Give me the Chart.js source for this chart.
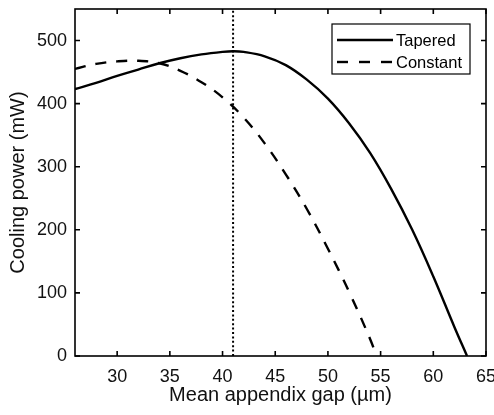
<!DOCTYPE html>
<html>
<head>
<meta charset="utf-8">
<script src="https://cdn.jsdelivr.net/npm/chart.js@4.4.1/dist/chart.umd.min.js"></script>
<style>
  html, body { margin: 0; padding: 0; background: #fff; }
  #wrap { width: 494px; height: 415px; }
</style>
</head>
<body>
<div id="wrap"><canvas id="chart" width="494" height="415"></canvas></div>
<script>
// data
const gapTapered = [26, 28, 30, 32, 34, 36, 38, 40, 41, 42, 44, 46, 48, 50, 52, 54, 56, 58, 60, 62, 63.2];
const powerTapered = [423, 433, 444, 454, 464, 472, 478, 482, 483, 482, 475, 461, 438, 408, 369, 322, 265, 200, 126, 46, 0];

const gapConstant = [26, 28, 30, 32, 34, 36, 38, 40, 42, 44, 46, 48, 50, 52, 54, 54.6];
const powerConstant = [455, 463, 467, 468, 464, 452, 434, 410, 378, 337, 288, 233, 170, 102, 27, 0];

const optimumGap = 41;
const xTicks = [30, 35, 40, 45, 50, 55, 60, 65];
const yTicks = [0, 100, 200, 300, 400, 500];
const seriesNames = ["Tapered", "Constant"];

const FONT = "'Liberation Sans', Arial, Helvetica, sans-serif";

const toPoints = (xs, ys) => xs.map((x, i) => ({ x: x, y: ys[i] }));

// box + inward ticks on all four sides, legend in the corner
const framePlugin = {
    id: "frame",
    afterDatasetsDraw(chart) {
        const { ctx, chartArea: a, scales } = chart;
        const t = 5;
        ctx.save();
        ctx.strokeStyle = "#000";
        ctx.lineWidth = 1.6;
        ctx.setLineDash([]);
        ctx.beginPath();
        xTicks.forEach(v => {
            const px = scales.x.getPixelForValue(v);
            ctx.moveTo(px, a.bottom); ctx.lineTo(px, a.bottom - t);
            ctx.moveTo(px, a.top); ctx.lineTo(px, a.top + t);
        });
        yTicks.forEach(v => {
            const py = scales.y.getPixelForValue(v);
            ctx.moveTo(a.left, py); ctx.lineTo(a.left + t, py);
            ctx.moveTo(a.right, py); ctx.lineTo(a.right - t, py);
        });
        ctx.stroke();
        ctx.strokeRect(a.left, a.top, a.right - a.left, a.bottom - a.top);

        // legend
        const bx = a.right - 154, by = a.top + 15, bw = 138, bh = 50;
        ctx.fillStyle = "#fff";
        ctx.fillRect(bx, by, bw, bh);
        ctx.lineWidth = 1.2;
        ctx.strokeRect(bx, by, bw, bh);
        const rows = [by + 16, by + 38];
        const dashes = [[], [11, 11]];
        ctx.lineWidth = 2.4;
        rows.forEach((ry, i) => {
            ctx.setLineDash(dashes[i]);
            ctx.beginPath();
            ctx.moveTo(bx + 5, ry);
            ctx.lineTo(bx + 61, ry);
            ctx.stroke();
        });
        ctx.setLineDash([]);
        ctx.fillStyle = "#000";
        ctx.font = "16.5px " + FONT;
        ctx.textBaseline = "middle";
        ctx.textAlign = "left";
        rows.forEach((ry, i) => ctx.fillText(seriesNames[i], bx + 64, ry + 1));
        ctx.restore();
    }
};

new Chart(document.getElementById("chart"), {
    type: "line",
    data: {
        datasets: [
            {
                label: seriesNames[0],
                data: toPoints(gapTapered, powerTapered),
                borderColor: "#000",
                borderWidth: 2.4,
                pointRadius: 0,
                tension: 0.4,
                fill: false
            },
            {
                label: seriesNames[1],
                data: toPoints(gapConstant, powerConstant),
                borderColor: "#000",
                borderWidth: 2.4,
                borderDash: [11, 10],
                pointRadius: 0,
                tension: 0.4,
                fill: false
            },
            {
                label: "optimum",
                data: [{ x: optimumGap, y: 0 }, { x: optimumGap, y: 550 }],
                borderColor: "#000",
                borderWidth: 2,
                borderDash: [2, 2.4],
                pointRadius: 0,
                fill: false
            }
        ]
    },
    options: {
        responsive: false,
        animation: false,
        layout: { padding: { left: 0, right: 8, top: 9, bottom: 0 } },
        plugins: {
            legend: { display: false },
            tooltip: { enabled: false }
        },
        scales: {
            x: {
                type: "linear",
                min: 26,
                max: 65,
                grid: { display: false, drawTicks: false },
                border: { display: false },
                afterBuildTicks: s => { s.ticks = xTicks.map(v => ({ value: v })); },
                afterFit: s => { s.height = 59; s.paddingLeft = 0; s.paddingRight = 0; },
                ticks: {
                    color: "#111",
                    font: { family: FONT, size: 18 },
                    padding: 10,
                    maxRotation: 0
                },
                title: {
                    display: true,
                    text: "Mean appendix gap (µm)",
                    color: "#111",
                    font: { family: FONT, size: 20 },
                    padding: { top: 0, bottom: 8 }
                }
            },
            y: {
                type: "linear",
                min: 0,
                max: 550,
                grid: { display: false, drawTicks: false },
                border: { display: false },
                afterBuildTicks: s => { s.ticks = yTicks.map(v => ({ value: v })); },
                afterFit: s => { s.width = 75; s.paddingTop = 0; s.paddingBottom = 0; },
                ticks: {
                    color: "#111",
                    font: { family: FONT, size: 18 },
                    padding: 8
                },
                title: {
                    display: true,
                    text: "Cooling power (mW)",
                    color: "#111",
                    font: { family: FONT, size: 20 },
                    padding: { top: 6, bottom: 0 }
                }
            }
        }
    },
    plugins: [framePlugin]
});
</script>
</body>
</html>
